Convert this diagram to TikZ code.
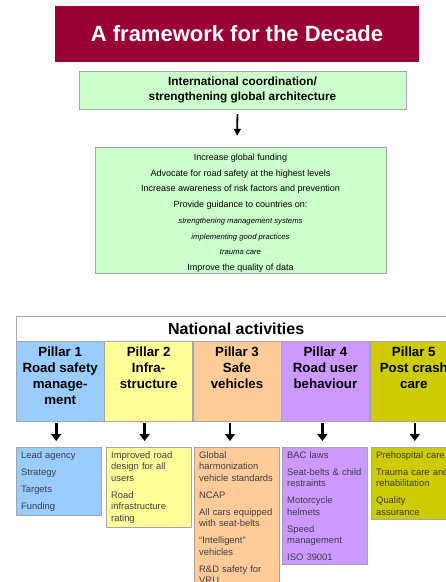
\documentclass[tikz,border=0pt]{standalone}
\usepackage{fontspec}
\setmainfont{Liberation Sans}
\usepackage{xcolor}
\usepackage{tikz}
\usetikzlibrary{arrows.meta, positioning, calc}
\definecolor{decadered}{RGB}{153, 0, 51}
\definecolor{lightgreen}{RGB}{204, 255, 204}
\definecolor{pillarblue}{RGB}{153, 204, 255}
\definecolor{pillaryellow}{RGB}{255, 255, 153}
\definecolor{pillarorange}{RGB}{255, 204, 153}
\definecolor{pillarpurple}{RGB}{204, 153, 255}
\definecolor{pillarolive}{RGB}{204, 204, 0}
\definecolor{boxtext}{RGB}{60, 60, 72}

\begin{document}
\begin{tikzpicture}[x=1pt, y=-1pt,
    pillar/.style={draw=gray!70, minimum width=88pt, minimum height=80pt, inner sep=0pt},
    pillartext/.style={align=center, inner sep=0pt, font=\fontsize{13.3}{16}\selectfont\bfseries},
    actbox/.style={draw=gray!70, anchor=north west, text width=75pt, align=left,
                   inner xsep=5pt, inner ysep=4pt, text=boxtext,
                   font=\fontsize{9.4}{11.5}\selectfont},
    bigarrow/.style={line width=2.6pt, -{Triangle[width=10pt, length=7pt]}}]
    \useasboundingbox (0,0) rectangle (446,582);
    \clip (0,0) rectangle (446,582);

    % 标题与全球层面
    \node[fill=decadered, minimum width=364pt, minimum height=56pt, inner sep=0pt,
          text=white, font=\fontsize{22}{24}\selectfont\bfseries] (title) at (237,34) {A framework for the Decade};
    \node[draw=gray!70, fill=lightgreen, minimum width=327pt, minimum height=38pt, align=center,
          font=\fontsize{11.8}{14.7}\selectfont\bfseries] (coord) at (242.5,90)
          {International coordination/\\strengthening global architecture};
    \node[draw=gray!70, fill=lightgreen, minimum width=291pt, minimum height=126pt] (tasks) at (240.5,210) {};
    \node[align=center, inner sep=0pt, font=\fontsize{9}{15.7}\selectfont,
          below=7pt of tasks.north] (taskst) {%
        Increase global funding\\
        Advocate for road safety at the highest levels\\
        Increase awareness of risk factors and prevention\\
        Provide guidance to countries on:\\
        {\fontsize{7.7}{15.7}\selectfont\itshape strengthening management systems}\\
        {\fontsize{7.7}{15.7}\selectfont\itshape implementing good practices}\\
        {\fontsize{7.7}{15.7}\selectfont\itshape trauma care}\\
        Improve the quality of data};
    \draw[line width=1.8pt, -{Triangle[width=7pt, length=7pt]}, shorten <=5pt, shorten >=11pt]
        ([xshift=-5pt]coord.south) -- ([xshift=-3.5pt]tasks.north);

    % 国家层面五大支柱
    \node[draw=gray!70, anchor=north west, minimum width=440pt, minimum height=25pt,
          font=\fontsize{16}{18}\selectfont\bfseries] (national) at (16,316) {National activities};
    \node[pillar, fill=pillarblue, anchor=north west] (p1) at (16,341) {};
    \node[pillar, fill=pillaryellow, right=0pt of p1] (p2) {};
    \node[pillar, fill=pillarorange, right=0pt of p2] (p3) {};
    \node[pillar, fill=pillarpurple, right=0pt of p3] (p4) {};
    \node[pillar, fill=pillarolive, right=0pt of p4] (p5) {};

    \node[pillartext, below=6pt of p1.north] (p1t) {Pillar 1\\Road safety\\manage-\\ment};
    \node[pillartext, below=6pt of p2.north] (p2t) {Pillar 2\\Infra-\\structure};
    \node[pillartext, below=6pt of p3.north] (p3t) {Pillar 3\\Safe\\vehicles};
    \node[pillartext, below=6pt of p4.north] (p4t) {Pillar 4\\Road user\\behaviour};
    \node[pillartext, below=6pt of p5.north] (p5t) {Pillar 5\\Post crash\\care};

    % 各支柱的活动
    \node[actbox, fill=pillarblue] (a1) at (16,447)
        {Lead agency\\[5.5pt] Strategy\\[5.5pt] Targets\\[5.5pt] Funding};
    \node[actbox, fill=pillaryellow] (a2) at (106,447)
        {Improved road\\design for all\\users\\[5.5pt] Road\\infrastructure\\rating};
    \node[actbox, fill=pillarorange] (a3) at (194,447)
        {Global\\harmonization\\vehicle standards\\[5.5pt] NCAP\\[5.5pt] All cars equipped\\with seat-belts\\[5.5pt]
         ``Intelligent''\\vehicles\\[5.5pt] R\&D safety for\\VRU};
    \node[actbox, fill=pillarpurple] (a4) at (282,447)
        {BAC laws\\[5.5pt] Seat-belts \& child\\restraints\\[5.5pt] Motorcycle\\helmets\\[5.5pt]
         Speed\\management\\[5.5pt] ISO 39001};
    \node[actbox, fill=pillarolive] (a5) at (371,447)
        {Prehospital care\\[5.5pt] Trauma care and\\rehabilitation\\[5.5pt] Quality\\assurance};

    \foreach \i/\dx in {1/-4, 2/-4, 3/-7, 4/-3, 5/1} {
        \draw[bigarrow, shorten <=2pt, shorten >=6pt]
            ([xshift=\dx pt]p\i.south) -- ([xshift=\dx pt]p\i.south |- a\i.north);
    }
\end{tikzpicture}
\end{document}
